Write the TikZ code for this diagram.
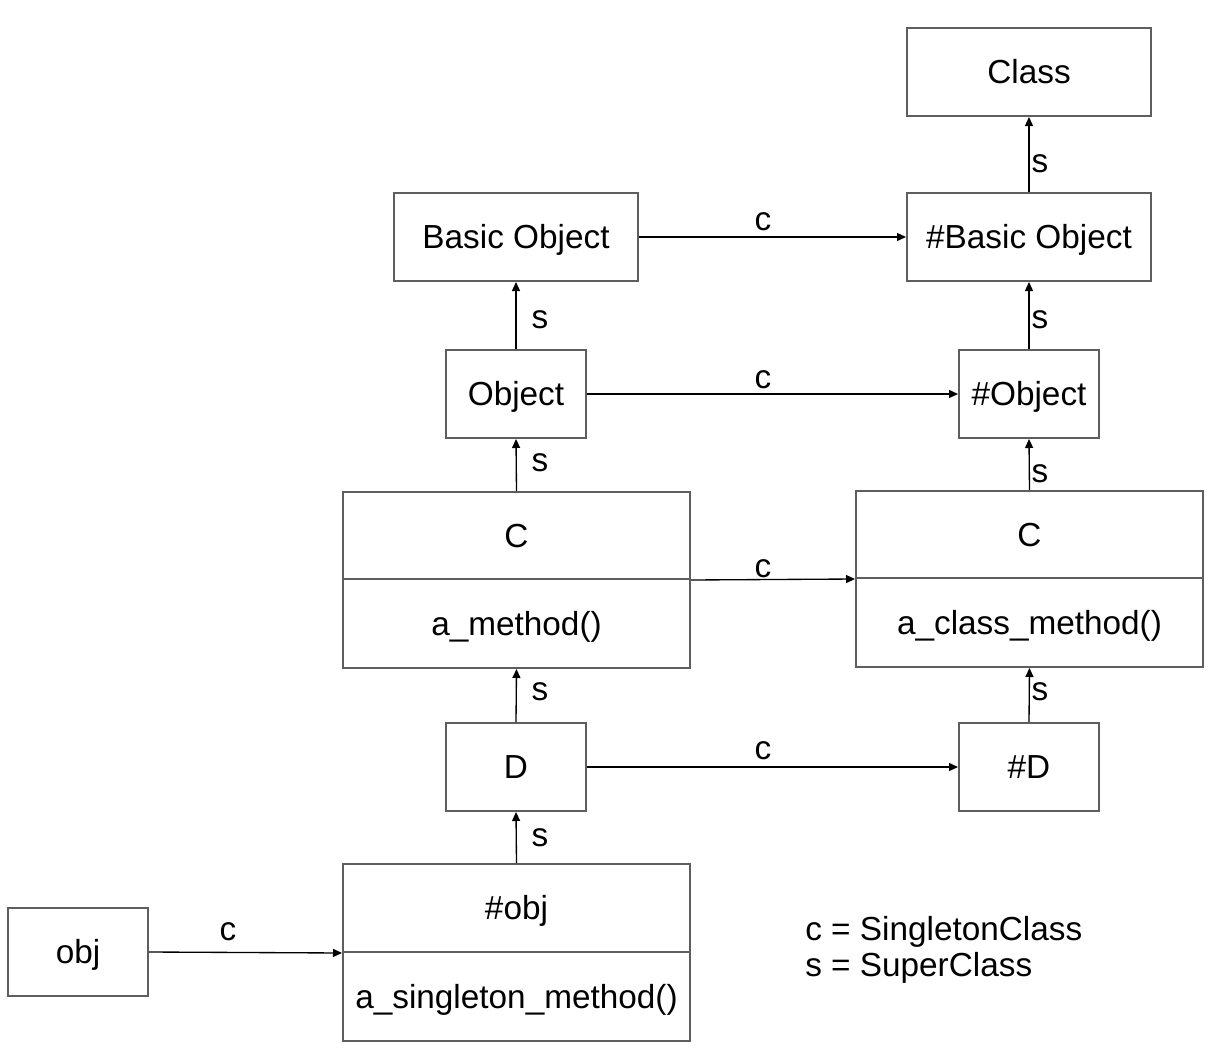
\documentclass[tikz,border=0pt]{standalone}
\usepackage{fontspec}
\setmainfont{Liberation Sans}
\usetikzlibrary{arrows.meta}
\definecolor{boxgray}{HTML}{5E5E5E}
\begin{document}
\begin{tikzpicture}[x=0.75pt,y=-0.75pt,
  every node/.style={font=\fontsize{25}{29}\selectfont, inner sep=0pt},
  box/.style={draw=boxgray, line width=1.5pt, rectangle, fill=white, text height=17.9pt, text depth=0pt},
  wide/.style={box, minimum width=183pt, minimum height=66pt},
  narrow/.style={box, minimum width=105pt, minimum height=66pt},
  split/.style={box, minimum width=260.25pt, minimum height=66pt},
  conn/.style={draw=black, line width=1pt, -{Triangle[length=6.75pt,width=6pt]}},
  lbl/.style={}]
\useasboundingbox (0,0) rectangle (1224,1056);
% left column
\node[wide] (bo) at (516,237) {Basic Object};
\node[narrow] (o) at (516,394) {Object};
\node[split, minimum height=65.25pt] (ct) at (516.5,535.5) {C};
\node[split, minimum height=66.75pt] (cb) at (516.5,623.5) {a\_method()};
\node[narrow] (d) at (516,767) {D};
\node[split] (ot) at (516.5,908) {\#obj};
\node[split, minimum height=66.75pt] (ob) at (516.5,996.5) {a\_singleton\_method()};
\node[narrow] (obj) at (78,952) {obj};
% right column
\node[wide] (cls) at (1029,72) {Class};
\node[wide] (rbo) at (1029,237) {\#Basic Object};
\node[narrow] (ro) at (1029,394) {\#Object};
\node[split, minimum height=65.25pt] (rct) at (1029.5,534.5) {C};
\node[split, minimum height=66.75pt] (rcb) at (1029.5,622.5) {a\_class\_method()};
\node[narrow] (rd) at (1029,767) {\#D};
% singleton-class arrows
\draw[conn] (bo.east) -- (rbo.west);
\draw[conn] (o.east) -- (ro.west);
\draw[conn] (ct.south east) -- (rct.south west);
\draw[conn] (d.east) -- (rd.west);
\draw[conn] (obj.east) -- (ot.south west);
\node[lbl] (l1) at (763,222) {c};
\node[lbl] (l2) at (763,380) {c};
\node[lbl] (l3) at (763,569) {c};
\node[lbl] (l4) at (763,751) {c};
\node[lbl] (l5) at (228,932) {c};
% superclass arrows
\draw[conn] (o.north) -- (bo.south);
\draw[conn] (ct.north) -- (o.south);
\draw[conn] (d.north) -- (cb.south);
\draw[conn] (ot.north) -- (d.south);
\draw[conn] (rbo.north) -- (cls.south);
\draw[conn] (ro.north) -- (rbo.south);
\draw[conn] (rct.north) -- (ro.south);
\draw[conn] (rd.north) -- (rcb.south);
\node[lbl] (s1) at (540,320) {s};
\node[lbl] (s2) at (540,463) {s};
\node[lbl] (s3) at (540,692) {s};
\node[lbl] (s4) at (540,838) {s};
\node[lbl] (s5) at (1040,164) {s};
\node[lbl] (s6) at (1040,320) {s};
\node[lbl] (s7) at (1040,474) {s};
\node[lbl] (s8) at (1040,692) {s};
% legend
\node[anchor=west, align=left, font=\fontsize{25}{27}\selectfont] (legend) at (805,950) {c = SingletonClass\\s = SuperClass};
\end{tikzpicture}
\end{document}
